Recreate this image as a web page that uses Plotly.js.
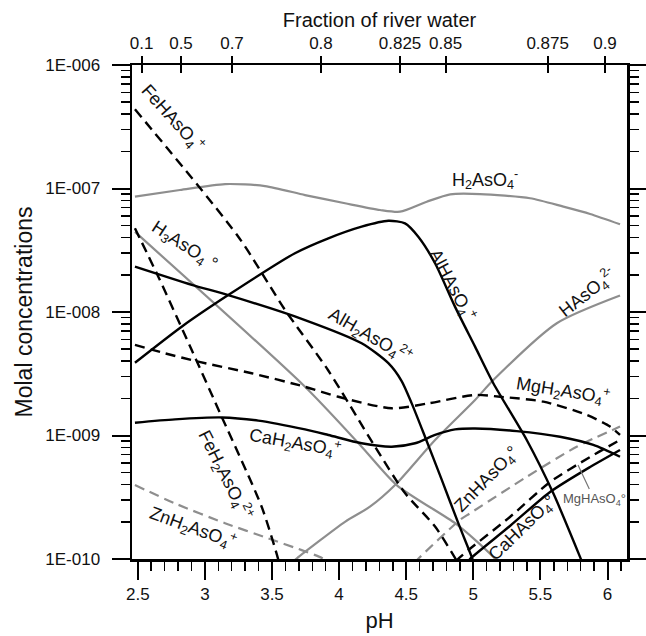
<!DOCTYPE html>
<html><head><meta charset="utf-8">
<script src="https://cdn.plot.ly/plotly-3.0.1.min.js"></script>
<style>html,body{margin:0;padding:0;background:#fff}#chart{width:646px;height:636px}</style>
</head><body><div id="chart"></div>
<script>
// ---- data (pH vs molal concentration) ----
const pH_H2AsO4 = [2.479, 2.814, 3.150, 3.448, 3.746, 4.044, 4.305, 4.454, 4.653, 4.828, 5.050, 5.423, 5.671, 5.870, 6.093];
const c_H2AsO4  = [8.59e-8, 9.73e-8, 1.086e-7, 1.047e-7, 8.85e-8, 7.59e-8, 6.70e-8, 6.49e-8, 7.82e-8, 8.97e-8, 9.02e-8, 8.34e-8, 7.13e-8, 6.22e-8, 5.13e-8];

const pH_FeHAsO4 = [2.479, 3.249, 3.597, 3.917, 4.268, 4.491, 4.715, 4.886, 4.92];
const c_FeHAsO4  = [4.38e-7, 4.07e-8, 1.04e-8, 3.39e-9, 8.11e-10, 3.42e-10, 1.83e-10, 9.3e-11, 8.0e-11];

const pH_FeH2AsO4 = [2.479, 2.653, 2.902, 3.125, 3.423, 3.537, 3.56];
const c_FeH2AsO4  = [4.76e-8, 1.93e-8, 4.92e-9, 1.42e-9, 2.65e-10, 1.08e-10, 8.7e-11];

const pH_H3AsO4 = [2.479, 3.746, 4.168, 4.429, 4.864, 5.013, 5.149, 5.17];
const c_H3AsO4  = [4.45e-8, 2.48e-9, 8.11e-10, 3.97e-10, 1.95e-10, 1.43e-10, 1.04e-10, 9.8e-11];

const pH_HAsO4 = [3.66, 3.684, 4.044, 4.230, 4.417, 4.715, 5.013, 5.149, 5.622, 6.093];
const c_HAsO4  = [9.55e-11, 1.01e-10, 2.0e-10, 2.65e-10, 3.97e-10, 9.20e-10, 1.94e-9, 2.81e-9, 8.11e-9, 1.36e-8];

const pH_AlHAsO4 = [2.479, 2.827, 3.174, 3.671, 3.920, 4.168, 4.367, 4.491, 4.590, 4.715, 4.864, 5.013, 5.149, 5.398, 5.596, 5.795, 5.82];
const c_AlHAsO4  = [3.88e-9, 7.60e-9, 1.37e-8, 2.99e-8, 3.95e-8, 4.91e-8, 5.48e-8, 5.22e-8, 4.07e-8, 2.48e-8, 1.10e-8, 5.24e-9, 2.65e-9, 9.20e-10, 3.40e-10, 1.04e-10, 8.9e-11];

const pH_AlH2AsO4 = [2.479, 2.902, 3.174, 3.746, 4.168, 4.367, 4.466, 4.541, 4.640, 4.765, 4.888, 4.988, 5.01];
const c_AlH2AsO4  = [2.33e-8, 1.66e-8, 1.37e-8, 8.61e-9, 5.58e-9, 3.85e-9, 2.76e-9, 1.82e-9, 9.77e-10, 4.37e-10, 1.95e-10, 1.04e-10, 8.9e-11];

const pH_CaH2AsO4 = [2.479, 2.777, 3.125, 3.398, 3.746, 3.920, 4.168, 4.392, 4.566, 4.715, 4.864, 5.013, 5.323, 5.646, 5.894, 6.093];
const c_CaH2AsO4  = [1.27e-9, 1.35e-9, 1.40e-9, 1.32e-9, 1.12e-9, 1.01e-9, 8.65e-10, 8.11e-10, 8.65e-10, 1.01e-9, 1.12e-9, 1.14e-9, 1.086e-9, 9.77e-10, 8.38e-10, 6.73e-10];

const pH_MgH2AsO4 = [2.479, 2.703, 2.951, 3.349, 3.746, 3.994, 4.392, 4.665, 5.013, 5.199, 5.522, 5.845, 6.019, 6.093];
const c_MgH2AsO4  = [5.41e-9, 4.63e-9, 3.96e-9, 3.19e-9, 2.48e-9, 2.06e-9, 1.66e-9, 1.82e-9, 2.13e-9, 2.06e-9, 1.88e-9, 1.47e-9, 1.18e-9, 1.01e-9];

const pH_ZnH2AsO4 = [2.479, 2.777, 3.150, 3.472, 3.721, 3.873, 3.95];
const c_ZnH2AsO4  = [3.97e-10, 2.82e-10, 1.95e-10, 1.47e-10, 1.18e-10, 1.02e-10, 9.1e-11];

const pH_ZnHAsO4 = [4.56, 4.588, 4.900, 4.975, 5.398, 5.770, 6.093];
const c_ZnHAsO4  = [9.3e-11, 1.0e-10, 2.07e-10, 2.34e-10, 4.63e-10, 8.11e-10, 1.18e-9];

const pH_MgHAsO4 = [4.87, 4.886, 4.975, 5.273, 5.572, 5.870, 6.093];
const c_MgHAsO4  = [9.55e-11, 1.0e-10, 1.21e-10, 2.19e-10, 4.20e-10, 6.70e-10, 9.20e-10];

const pH_CaHAsO4 = [4.96, 4.975, 5.273, 5.572, 5.870, 6.093];
const c_CaHAsO4  = [9.55e-11, 1.0e-10, 1.85e-10, 3.49e-10, 5.56e-10, 7.64e-10];

// top axis: fraction of river water at pH positions
const topTickPH = [2.529, 2.822, 3.202, 3.865, 4.454, 4.794, 5.554, 5.981];
const topTickLabels = ['0.1', '0.5', '0.7', '0.8', '0.825', '0.85', '0.875', '0.9'];

const yTickVals = [1e-10, 1e-9, 1e-8, 1e-7, 1e-6];
const yTickLabels = ['1E-010', '1E-009', '1E-008', '1E-007', '1E-006'];

// ---- styling ----
const FONT = 'Liberation Sans, Arial, Helvetica, sans-serif';
const BLACK = '#000000';
const GRAY = '#8e8e8e';
const DASH = '10px,6px';

function line(x, y, color, width, dash) {
  return {x: x, y: y, type: 'scatter', mode: 'lines', xaxis: 'x', yaxis: 'y',
    line: {color: color, width: width, dash: dash || 'solid', shape: 'spline', smoothing: 0.7},
    showlegend: false, hoverinfo: 'skip', cliponaxis: true};
}

const traces = [
  line(pH_H2AsO4, c_H2AsO4, GRAY, 2.2),
  line(pH_H3AsO4, c_H3AsO4, GRAY, 2.2),
  line(pH_HAsO4, c_HAsO4, GRAY, 2.2),
  line(pH_ZnH2AsO4, c_ZnH2AsO4, GRAY, 2.2, DASH),
  line(pH_ZnHAsO4, c_ZnHAsO4, GRAY, 2.2, DASH),
  line(pH_FeHAsO4, c_FeHAsO4, BLACK, 2.4, DASH),
  line(pH_FeH2AsO4, c_FeH2AsO4, BLACK, 2.4, DASH),
  line(pH_MgH2AsO4, c_MgH2AsO4, BLACK, 2.4, DASH),
  line(pH_MgHAsO4, c_MgHAsO4, BLACK, 2.4, DASH),
  line(pH_AlHAsO4, c_AlHAsO4, BLACK, 2.4),
  line(pH_AlH2AsO4, c_AlH2AsO4, BLACK, 2.4),
  line(pH_CaH2AsO4, c_CaH2AsO4, BLACK, 2.4),
  line(pH_CaHAsO4, c_CaHAsO4, BLACK, 2.4),
  {x: [], y: [], xaxis: 'x2', yaxis: 'y', type: 'scatter', showlegend: false, hoverinfo: 'skip'},
  {x: [], y: [], xaxis: 'x3', yaxis: 'y', type: 'scatter', showlegend: false, hoverinfo: 'skip'}
];

const X_RANGE = [2.457, 6.145];
const minorY = [];
for (let e = -10; e < -6; e++) for (let d = 2; d <= 9; d++) minorY.push(d * Math.pow(10, e));

function lab(text, x, y, angle, extra) {
  return Object.assign({text: text, x: x, y: y, xref: 'x', yref: 'y', showarrow: false,
    textangle: angle, font: {family: FONT, size: 18, color: '#111'}}, extra || {});
}

const annotations = [
  lab('FeHAsO<sub>4</sub><sup>+</sup>', 2.756, -6.429, 48),
  lab('H<sub>2</sub>AsO<sub>4</sub><sup>-</sup>', 5.087, -6.931, 0),
  lab('H<sub>3</sub>AsO<sub>4</sub> °', 2.845, -7.47, 33),
  lab('AlH<sub>2</sub>AsO<sub>4</sub><sup>2+</sup>', 4.230, -8.194, 30),
  lab('AlHAsO<sub>4</sub><sup>+</sup>', 4.841, -7.781, 62),
  lab('HAsO<sub>4</sub><sup>2-</sup>', 5.85, -7.84, -38),
  lab('MgH<sub>2</sub>AsO<sub>4</sub><sup>+</sup>', 5.669, -8.632, 9),
  lab('CaH<sub>2</sub>AsO<sub>4</sub><sup>+</sup>', 3.671, -9.053, 10),
  lab('FeH<sub>2</sub>AsO<sub>4</sub><sup>2+</sup>', 3.157, -9.320, 63),
  lab('ZnH<sub>2</sub>AsO<sub>4</sub><sup>+</sup>', 2.91, -9.741, 20),
  lab('ZnHAsO<sub>4</sub>°', 5.109, -9.360, -46),
  lab('CaHAsO<sub>4</sub>°', 5.370, -9.749, -44),
  lab('MgHAsO<sub>4</sub>°', 5.780, -9.239, 0, {showarrow: true, ax: 16, ay: 34, arrowhead: 0,
      arrowwidth: 1.2, arrowcolor: '#777', font: {family: FONT, size: 13, color: '#555'}})
];

const layout = {
  width: 646, height: 636,
  margin: {l: 132, r: 19, t: 65, b: 77, pad: 0},
  paper_bgcolor: '#fff', plot_bgcolor: '#fff',
  font: {family: FONT, color: '#111'},
  showlegend: false,
  xaxis: {
    range: X_RANGE, tick0: 2.5, dtick: 0.5, ticks: 'outside', ticklen: 18, tickwidth: 2, tickcolor: BLACK,
    showline: true, linewidth: 2.5, linecolor: BLACK, mirror: false, showgrid: false, zeroline: false,
    tickfont: {family: FONT, size: 17, color: '#111'},
    minor: {dtick: 0.1, tick0: 2.5, ticks: 'outside', ticklen: 9, tickwidth: 1.5, tickcolor: BLACK, showgrid: false},
    title: {text: 'pH', font: {family: FONT, size: 22, color: '#111'}, standoff: 10}
  },
  xaxis2: {
    overlaying: 'x', side: 'top', anchor: 'y', range: X_RANGE,
    tickmode: 'array', tickvals: topTickPH, ticktext: topTickLabels,
    ticks: 'outside', ticklen: 7, tickwidth: 2, tickcolor: BLACK,
    showline: true, linewidth: 2.5, linecolor: BLACK, showgrid: false, zeroline: false,
    tickfont: {family: FONT, size: 17, color: '#111'},
    title: {text: 'Fraction of river water', font: {family: FONT, size: 20, color: '#111'}, standoff: 1}
  },
  xaxis3: {
    overlaying: 'x', side: 'top', anchor: 'y', range: X_RANGE,
    tickmode: 'array', tickvals: topTickPH, ticks: 'inside', ticklen: 8, tickwidth: 2, tickcolor: BLACK,
    showticklabels: false, showline: false, showgrid: false, zeroline: false
  },
  yaxis: {
    type: 'log', range: [-10, -6], tickmode: 'array', tickvals: yTickVals, ticktext: yTickLabels,
    ticks: 'outside', ticklen: 18, tickwidth: 2, tickcolor: BLACK, ticklabelstandoff: 8,
    showline: true, linewidth: 2.5, linecolor: BLACK, mirror: 'ticks', showgrid: false, zeroline: false,
    tickfont: {family: FONT, size: 17, color: '#111'},
    minor: {tickmode: 'array', tickvals: minorY, ticks: 'outside', ticklen: 9, tickwidth: 1.5, tickcolor: BLACK, showgrid: false},
    title: {text: 'Molal concentrations', font: {family: FONT, size: 23, color: '#111'}, standoff: 6}
  },
  annotations: annotations
};

Plotly.newPlot('chart', traces, layout, {staticPlot: true, displayModeBar: false});
</script>
</body></html>
